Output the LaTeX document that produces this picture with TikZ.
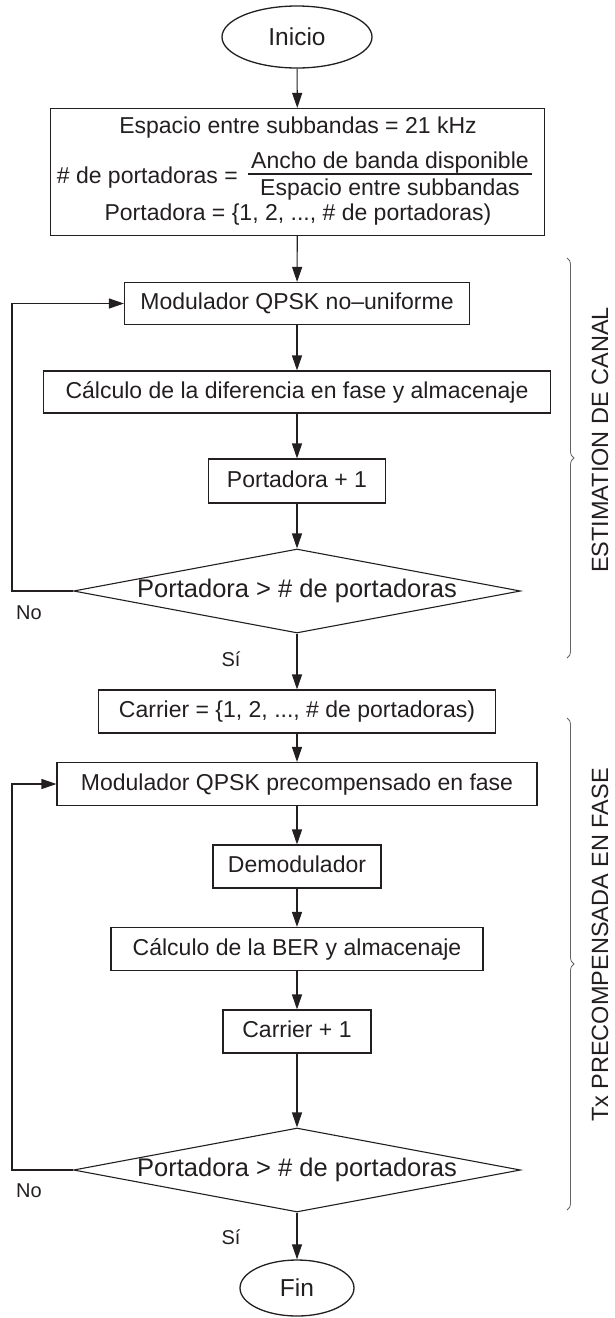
\documentclass[tikz,border=0pt]{standalone}
\usepackage{fontspec}
\setmainfont{Liberation Sans}
\usetikzlibrary{shapes.geometric,arrows.meta,decorations.pathreplacing}
\definecolor{ink}{RGB}{35,31,32}
\begin{document}
\begin{tikzpicture}[x=1pt,y=-1pt,
  base/.style={font=\fontsize{23}{27}\selectfont, text=ink, inner sep=0pt},
  box/.style={base, draw=ink, line width=1.1pt, rectangle, minimum height=42pt, text height=16.5pt, text depth=4.5pt},
  term/.style={base, draw=ink, line width=1.3pt, ellipse, font=\fontsize{24.5}{28}\selectfont},
  dec/.style={base, draw=ink, line width=1.1pt, diamond, aspect=5.3, font=\fontsize{25.5}{29}\selectfont, text height=17pt, text depth=5pt},
  arr/.style={draw=ink, line width=1.1pt, -{Triangle[length=15pt,width=10pt]}},
  ln/.style={draw=ink, line width=1.1pt},
  lbl/.style={base, font=\fontsize{20}{24}\selectfont},
  brc/.style={draw=ink!70, line width=0.8pt, decorate, decoration={brace, amplitude=7pt}},
  side/.style={base, font=\fontsize{23.5}{28}\selectfont, rotate=90},
]
\useasboundingbox (0,0) rectangle (615,1318);

% top
\node[term, minimum width=150pt, minimum height=62pt] (ini) at (297,37) {Inicio};
\node[draw=ink, line width=1.1pt, rectangle, minimum width=494pt, minimum height=127pt, inner sep=0pt] (b1) at (297.5,172) {};
\node[base, anchor=base] (e1) at (298,133) {Espacio entre subbandas = 21 kHz};
\node[base, anchor=base east] (lhs) at (238,183) {\# de portadoras =};
\node[base, anchor=base] (num) at (390,168) {Ancho de banda disponible};
\node[base, anchor=base] (den) at (390,195) {Espacio entre subbandas};
\coordinate (fl) at (248,174);
\coordinate (fr) at (532,174);
\draw[ln] (fl) -- (fr);
\node[base, anchor=base] (p0) at (298,220) {Portadora = \{1, 2, ..., \# de portadoras)};

% first loop
\node[box, minimum width=345pt] (mod1) at (297,303.5) {Modulador QPSK no--uniforme};
\node[box, minimum width=507pt] (calc1) at (297,392) {Cálculo de la diferencia en fase y almacenaje};
\node[box, minimum width=177pt, minimum height=44pt] (port1) at (297,481) {Portadora + 1};
\node[dec, minimum width=447pt, minimum height=84pt] (dia1) at (297,591) {Portadora > \# de portadoras};
\node[lbl] (no1) at (29,613) {No};
\node[lbl] (si1) at (231,659) {Sí};

% second part
\node[box, minimum width=397pt, minimum height=43pt] (car) at (297,711.5) {Carrier = \{1, 2, ..., \# de portadoras)};
\node[box, minimum width=480pt, minimum height=43pt] (mod2) at (297,784) {Modulador QPSK precompensado en fase};
\node[box, minimum width=168pt, minimum height=43pt] (dem) at (297,866.5) {Demodulador};
\node[box, minimum width=372pt, minimum height=43pt] (calc2) at (297,949) {Cálculo de la BER y almacenaje};
\node[box, minimum width=148pt, minimum height=43pt] (car1) at (297,1031.5) {Carrier + 1};
\node[dec, minimum width=447pt, minimum height=84pt] (dia2) at (297,1170) {Portadora > \# de portadoras};
\node[lbl] (no2) at (29,1191) {No};
\node[lbl] (si2) at (231,1237) {Sí};
\node[term, minimum width=114pt, minimum height=56pt] (fin) at (297,1288) {Fin};

% connectors
\draw[arr] (ini) -- (b1);
\draw[arr] (b1) -- (mod1);
\draw[arr] (mod1) -- (calc1);
\draw[arr] (calc1) -- (port1);
\draw[arr] (port1) -- (dia1);
\draw[arr] (dia1) -- (car);
\coordinate (l1) at (12,591);
\draw[arr] (dia1.west) -- (l1) |- (mod1.west);
\draw[arr] (car) -- (mod2);
\draw[arr] (mod2) -- (dem);
\draw[arr] (dem) -- (calc2);
\draw[arr] (calc2) -- (car1);
\draw[arr] (car1) -- (dia2);
\draw[arr] (dia2) -- (fin);
\coordinate (l2) at (12,1170);
\draw[arr] (dia2.west) -- (l2) |- (mod2.west);

% braces
\coordinate (bt1) at (567,258);
\coordinate (bb1) at (567,658);
\draw[brc] (bt1) -- (bb1);
\node[side] (s1) at (600,440) {ESTIMATION DE CANAL};
\coordinate (bt2) at (567,718);
\coordinate (bb2) at (567,1210);
\draw[brc] (bt2) -- (bb2);
\node[side] (s2) at (600,945) {Tx PRECOMPENSADA EN FASE};
\end{tikzpicture}
\end{document}
